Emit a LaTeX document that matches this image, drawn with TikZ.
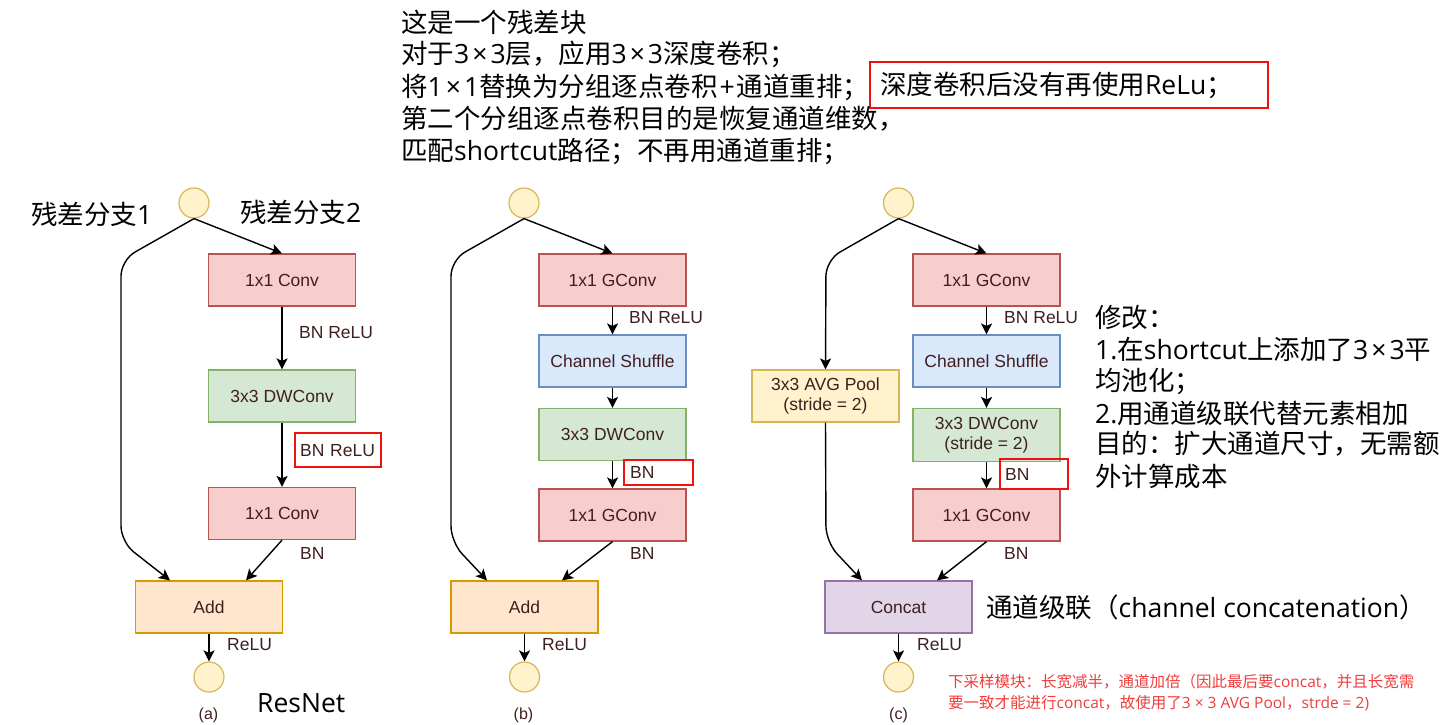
\documentclass[tikz,border=0pt]{standalone}
\usepackage{fontspec}
\setmainfont{Liberation Sans}
\newfontfamily\cjk{Noto Sans CJK SC}
\newfontfamily\latfont{Open Sans}
\newcommand\latn[1]{{\latfont #1}}
\newcommand\tms{\kern3pt×\kern3pt}
\usetikzlibrary{arrows.meta}
\definecolor{txt}{HTML}{3F1F1F}
\definecolor{pinkF}{HTML}{F8CECC}\definecolor{pinkD}{HTML}{B85450}
\definecolor{greenF}{HTML}{D5E8D4}\definecolor{greenD}{HTML}{82B366}
\definecolor{blueF}{HTML}{DAE8FC}\definecolor{blueD}{HTML}{6C8EBF}
\definecolor{orangeF}{HTML}{FFE6CC}\definecolor{orangeD}{HTML}{D79B00}
\definecolor{yelF}{HTML}{FFF2CC}\definecolor{yelD}{HTML}{D6B656}
\definecolor{purF}{HTML}{E1D5E7}\definecolor{purD}{HTML}{9673A6}
\definecolor{redmark}{HTML}{F01010}
\definecolor{rednote}{HTML}{F03C3C}
\begin{document}
\begin{tikzpicture}[x=1pt,y=-1pt,
  blk/.style={draw, line width=1.2pt, minimum width=147pt, minimum height=52pt, inner sep=0pt,
    font=\fontsize{17.5}{20.5}\selectfont, text=txt, align=center},
  pinkb/.style={blk, fill=pinkF, draw=pinkD},
  greenb/.style={blk, fill=greenF, draw=greenD},
  blueb/.style={blk, fill=blueF, draw=blueD},
  orangeb/.style={blk, fill=orangeF, draw=orangeD},
  yelb/.style={blk, fill=yelF, draw=yelD},
  purb/.style={blk, fill=purF, draw=purD},
  circ/.style={circle, draw=yelD, fill=yelF, line width=1.2pt, minimum size=30pt, inner sep=0pt},
  lbl/.style={anchor=west, inner sep=0pt, font=\fontsize{17.5}{20.5}\selectfont, text=txt},
  redlbl/.style={draw=redmark, line width=2.2pt, anchor=north west, inner ysep=0pt, align=left,
    font=\fontsize{17.5}{20.5}\selectfont, text=txt},
  capt/.style={inner sep=0pt, font=\fontsize{16}{18}\selectfont, text=txt},
  big/.style={anchor=west, inner sep=0pt, font=\cjk\fontsize{26.5}{32}\selectfont, text=black},
  note/.style={anchor=west, inner sep=0pt, font=\cjk\fontsize{15.5}{19}\selectfont, text=rednote},
  arr/.style={-{Stealth[length=11pt,width=11pt,inset=2.5pt]}, line width=1.4pt, black},
  shortc/.style={arr, rounded corners=16pt}
]
\useasboundingbox (0,0) rectangle (1442,724);

% ---------- top text ----------
\node[big] (t1) at (401,22) {这是一个残差块};
\node[big] (t2) at (401,54) {对于\latn{3\tms3}层，应用\latn{3\tms3}深度卷积；};
\node[big] (t3) at (401,87) {将\latn{1\tms1}替换为分组逐点卷积\latn{\kern2pt+\kern2pt}通道重排；};
\node[draw=redmark, line width=2.2pt, anchor=west, minimum width=398pt, minimum height=46pt,
  inner xsep=10pt, inner ysep=0pt, text width=378pt, align=left,
  font=\cjk\fontsize{26.5}{32}\selectfont] (t3b) at (869,85) {深度卷积后没有再使用\latn{ReLu}；};
\node[big] (t4) at (401,119) {第二个分组逐点卷积目的是恢复通道维数，};
\node[big] (t5) at (401,151) {匹配\latn{shortcut}路径；不再用通道重排；};

% ---------- (a) ----------
\node[big] (la1) at (31,214) {残差分支\latn{1}};
\node[big] (la2) at (240,212) {残差分支\latn{2}};
\node[circ] (ia) at (194,203) {};
\node[pinkb] (a1) at (282,280) {1x1 Conv};
\node[greenb] (a2) at (282,396) {3x3 DWConv};
\node[pinkb] (a3) at (282,513.5) {1x1 Conv};
\node[orangeb] (aadd) at (209,607) {Add};
\node[circ] (oa) at (209,677) {};
\node[lbl] (aL1) at (299,333) {BN ReLU};
\node[redlbl, minimum width=86pt, minimum height=34pt, inner xsep=5pt, text width=76pt] (aL2) at (294,432) {BN ReLU};
\node[lbl] (aL3) at (300,553) {BN};
\node[lbl] (aL4) at (227,645) {ReLU};
\node[capt] (acap) at (208.5,715) {(a)};
\node[big, font=\latfont\fontsize{26.5}{32}\selectfont] (resnet) at (257,703.5) {ResNet};
\coordinate (ca1) at (121,260);
\coordinate (ca2) at (121,542);
\draw[arr] (ia.south) -- (a1.north);
\draw[arr] (a1.south) -- (a2.north);
\draw[arr] (a2.south) -- (a3.north);
\draw[arr] (a3.south) -- ([xshift=37pt]aadd.north);
\draw[shortc] (ia.south) -- (ca1) -- (ca2) -- ([xshift=-39pt]aadd.north);
\draw[arr] (aadd.south) -- (oa.north);

% ---------- (b) ----------
\node[circ] (ib) at (524,203) {};
\node[pinkb] (b1) at (612.5,280) {1x1 GConv};
\node[blueb] (b2) at (612.5,361) {Channel Shuffle};
\node[greenb] (b3) at (612.5,434.5) {3x3 DWConv};
\node[pinkb] (b4) at (612.5,515) {1x1 GConv};
\node[orangeb] (badd) at (524.5,607) {Add};
\node[circ] (ob) at (524.5,677) {};
\node[lbl] (bL1) at (629,318) {BN ReLU};
\node[redlbl, minimum width=69pt, minimum height=25pt, inner xsep=6pt, text width=57pt] (bL2) at (623,459) {BN};
\node[lbl] (bL3) at (630,553) {BN};
\node[lbl] (bL4) at (542,645) {ReLU};
\node[capt] (bcap) at (523.5,715) {(b)};
\coordinate (cb1) at (451,260);
\coordinate (cb2) at (451,542);
\draw[arr] (ib.south) -- (b1.north);
\draw[arr] (b1.south) -- (b2.north);
\draw[arr] (b2.south) -- (b3.north);
\draw[arr] (b3.south) -- (b4.north);
\draw[arr] (b4.south) -- ([xshift=37.5pt]badd.north);
\draw[shortc] (ib.south) -- (cb1) -- (cb2) -- ([xshift=-37.5pt]badd.north);
\draw[arr] (badd.south) -- (ob.north);

% ---------- (c) ----------
\node[circ] (ic) at (898.5,203) {};
\node[pinkb] (c1) at (986.5,280) {1x1 GConv};
\node[blueb] (c2) at (986.5,361) {Channel Shuffle};
\node[greenb, minimum height=53pt] (c3) at (986.5,435) {3x3 DWConv\\(stride = 2)};
\node[pinkb] (c4) at (986.5,515) {1x1 GConv};
\node[yelb] (avg) at (825.5,396) {3x3 AVG Pool\\(stride = 2)};
\node[purb] (cc) at (898.5,607) {Concat};
\node[circ] (oc) at (898.5,677) {};
\node[lbl] (cL1) at (1004,318) {BN ReLU};
\node[redlbl, minimum width=68pt, minimum height=30pt, inner xsep=5pt, text width=58pt] (cL2) at (999,458) {BN};
\node[lbl] (cL3) at (1004,553) {BN};
\node[lbl] (cL4) at (917,645) {ReLU};
\node[capt] (ccap) at (898.5,715) {(c)};
\coordinate (cc1) at (826,260);
\coordinate (cc2) at (826,542);
\draw[arr] (ic.south) -- (c1.north);
\draw[arr] (c1.south) -- (c2.north);
\draw[arr] (c2.south) -- (c3.north);
\draw[arr] (c3.south) -- (c4.north);
\draw[arr] (c4.south) -- ([xshift=38.5pt]cc.north);
\draw[shortc] (ic.south) -- (cc1) -- (avg.north);
\draw[shortc] (avg.south) -- (cc2) -- ([xshift=-36.5pt]cc.north);
\draw[arr] (cc.south) -- (oc.north);

\node[big] (concatlbl) at (986,607) {通道级联（\latn{channel concatenation}）};

% ---------- right text ----------
\node[big] (r1) at (1095,317) {修改：};
\node[big] (r2) at (1095,349) {\latn{1.}在\latn{shortcut}上添加了\latn{3\tms3}平};
\node[big] (r3) at (1095,381) {均池化；};
\node[big] (r4) at (1095,413) {\latn{2.}用通道级联代替元素相加};
\node[big] (r5) at (1095,444) {目的：扩大通道尺寸，无需额};
\node[big] (r6) at (1095,476) {外计算成本};

% ---------- red note ----------
\node[note] (n1) at (948,682) {下采样模块：长宽减半，通道加倍（因此最后要\latn{concat}，并且长宽需};
\node[note] (n2) at (948,703) {要一致才能进行\latn{concat}，故使用了\latn{3 × 3 AVG Pool}，\latn{strde = 2)}};
\end{tikzpicture}
\end{document}
